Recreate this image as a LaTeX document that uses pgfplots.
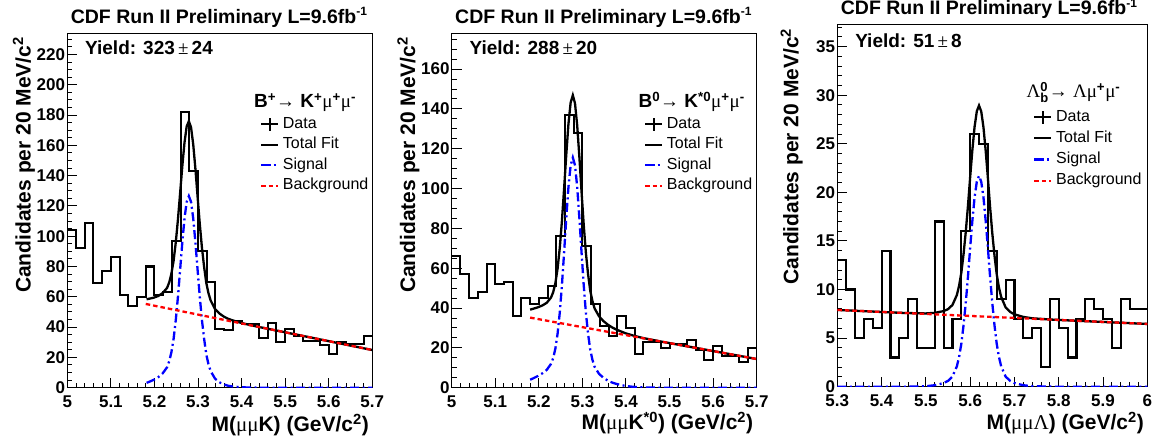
\documentclass[border=0pt]{standalone}
\usepackage{pgfplots}
\pgfplotsset{compat=1.18}
\usepackage{fontspec}
\setmainfont{Liberation Sans}
\newfontfamily\sym{Liberation Serif}
\newcommand{\g}[1]{{\sym\mdseries #1}}
\newcommand{\tsup}[1]{\raisebox{7.8pt}{\fontsize{12}{12}\selectfont #1}}

\pgfplotsset{
 cdfaxis/.style={
  scale only axis,
  axis line style={line width=1.5pt},
  tick align=inside,
  xtick pos=left, ytick pos=left,
  major tick length=10pt, minor tick length=5pt,
  tick style={black, line width=1pt},
  tick label style={font=\fontsize{17}{17}\selectfont\bfseries},
  /pgf/number format/assume math mode=true,
  scaled ticks=false,
  xticklabel style={anchor=base, yshift=-20pt},
  yticklabel style={anchor=east, inner sep=0pt, xshift=-2pt},
  label style={font=\fontsize{21}{21}\selectfont\bfseries},
  xlabel style={at={(rel axis cs:1,0)}, anchor=base east, yshift=-44pt},
  ylabel style={anchor=base east},
  title style={at={(rel axis cs:0,1)}, anchor=base west, yshift=4pt, font=\fontsize{19.5}{19.5}\selectfont\bfseries},
  title={CDF Run II Preliminary L=9.6fb\tsup{-1}},
  ylabel={Candidates per 20 MeV/c\textsuperscript{2}},
  legend cell align=left,
  legend style={anchor=north west, draw=none, fill=none, inner sep=0pt, outer sep=0pt,
    font=\fontsize{16}{16}\selectfont,
    nodes={inner sep=0pt, text height=12pt, text depth=3.5pt},
    row sep=5pt, /tikz/every odd column/.append style={column sep=3.5pt}},
 },
 hist/.style={const plot, black, line width=2.1pt, mark=none},
 tot/.style={black, line width=2.3pt, mark=none},
 sig/.style={blue, line width=2.3pt, mark=none, dash pattern=on 9pt off 3.5pt on 2pt off 3.5pt},
 bkg/.style={red, line width=2.3pt, mark=none, dash pattern=on 4.5pt off 3pt},
 datalegend/.style={legend image code/.code={
   \draw[black, line width=2pt] (0pt,0pt)--(17pt,0pt);
   \draw[black, line width=2pt] (8.5pt,-6.5pt)--(8.5pt,6.5pt);}},
}

\begin{document}
\begin{tikzpicture}
\path[use as bounding box] (0,0) rectangle (1159pt,441pt);

% ---------------- Panel 1 ----------------
\begin{axis}[cdfaxis, at={(67.3pt,53.3pt)}, anchor=south west,
  width=305pt, height=354.4pt,
  xmin=5, xmax=5.7, ymin=0, ymax=234,
  xtick={5,5.1,5.2,5.3,5.4,5.5,5.6,5.7},
  ytick={0,20,...,220},
  minor xtick={5.00,5.02,5.04,5.06,5.08,5.10,5.12,5.14,5.16,5.18,5.20,5.22,5.24,5.26,5.28,5.30,5.32,5.34,5.36,5.38,5.40,5.42,5.44,5.46,5.48,5.50,5.52,5.54,5.56,5.58,5.60,5.62,5.64,5.66,5.68,5.70},
  minor ytick={0,5,...,230},
  xlabel={M(\g{μμ}K) (GeV/c\textsuperscript{2})},
  ylabel style={at={(rel axis cs:-0.120,1)}},
  legend style={at={(rel axis cs:0.632,0.7655)}},
]
\addlegendimage{datalegend}\addlegendentry{Data}
\addlegendimage{tot}\addlegendentry{Total Fit}
\addlegendimage{sig}\addlegendentry{Signal}
\addlegendimage{bkg}\addlegendentry{Background}

\addplot[hist] coordinates {
(5.00,104) (5.02,92) (5.04,109) (5.06,69) (5.08,77) (5.10,86) (5.12,61) (5.14,54) (5.16,60) (5.18,80)
(5.20,61) (5.22,63) (5.24,97) (5.26,182) (5.28,143) (5.30,90) (5.32,70) (5.34,39) (5.36,38) (5.38,44)
(5.40,42) (5.42,42) (5.44,33) (5.46,43) (5.48,30) (5.50,39) (5.52,34) (5.54,31) (5.56,31) (5.58,28)
(5.60,22) (5.62,30) (5.64,29) (5.66,29) (5.68,34) (5.70,34)};
\addplot[tot] coordinates {
(5.182,58.4) (5.189,58.8) (5.199,59.5) (5.209,60.6) (5.219,62.5) (5.229,65.9) (5.234,69.6) (5.239,75.4)
(5.244,83.9) (5.249,96.0) (5.254,111.2) (5.259,128.7) (5.264,146.4) (5.269,161.9) (5.274,172.5) (5.279,176.0)
(5.284,171.9) (5.289,160.7) (5.294,144.6) (5.299,126.3) (5.304,108.3) (5.309,92.5) (5.314,79.8) (5.319,69.2)
(5.324,62.4) (5.329,57.6) (5.339,52.0) (5.349,49.0) (5.359,47.0) (5.369,45.5) (5.379,44.5) (5.399,42.8)
(5.419,41.4) (5.439,40.15) (5.70,24.88)};
\addplot[sig] coordinates {
(5.182,3.2) (5.189,4.0) (5.199,5.3) (5.209,7.0) (5.219,9.5) (5.229,13.5) (5.234,17.5) (5.239,23.5)
(5.244,32.3) (5.249,44.7) (5.254,60.2) (5.259,78.0) (5.264,96.0) (5.269,111.8) (5.274,122.7) (5.279,126.5)
(5.284,122.7) (5.289,111.8) (5.294,96.0) (5.299,78.0) (5.304,60.2) (5.309,44.7) (5.314,32.3) (5.319,22)
(5.324,15.5) (5.329,11) (5.339,6.0) (5.349,3.6) (5.359,2.2) (5.369,1.3) (5.379,0.8) (5.399,0.3)
(5.419,0.1) (5.439,0) (5.70,0)};
\addplot[bkg] coordinates {(5.18,55.3) (5.70,24.88)};

\node[anchor=base west, font=\fontsize{19}{19}\selectfont\bfseries] at (rel axis cs:0.047,0.9407) {Yield: 323\,\g{±}\,24};
\node[anchor=base west, font=\fontsize{19}{19}\selectfont\bfseries] at (rel axis cs:0.601,0.7912) {B\textsuperscript{+}\g{→} K\textsuperscript{+}\g{μ}\textsuperscript{+}\g{μ}\textsuperscript{-}};
\end{axis}

% ---------------- Panel 2 ----------------
\begin{axis}[cdfaxis, at={(451.7pt,53.3pt)}, anchor=south west,
  width=305pt, height=354.4pt,
  xmin=5, xmax=5.7, ymin=0, ymax=178,
  xtick={5,5.1,5.2,5.3,5.4,5.5,5.6,5.7},
  ytick={0,20,...,160},
  minor xtick={5.00,5.02,5.04,5.06,5.08,5.10,5.12,5.14,5.16,5.18,5.20,5.22,5.24,5.26,5.28,5.30,5.32,5.34,5.36,5.38,5.40,5.42,5.44,5.46,5.48,5.50,5.52,5.54,5.56,5.58,5.60,5.62,5.64,5.66,5.68,5.70},
  minor ytick={0,5,...,175},
  xlabel={M(\g{μμ}K\textsuperscript{*0}) (GeV/c\textsuperscript{2})},
  xlabel style={yshift=2pt},
  ylabel style={at={(rel axis cs:-0.120,1)}},
  legend style={at={(rel axis cs:0.6305,0.7655)}},
]
\addlegendimage{datalegend}\addlegendentry{Data}
\addlegendimage{tot}\addlegendentry{Total Fit}
\addlegendimage{sig}\addlegendentry{Signal}
\addlegendimage{bkg}\addlegendentry{Background}

\addplot[hist] coordinates {
(5.00,66) (5.02,57) (5.04,45) (5.06,48) (5.08,62) (5.10,52) (5.12,53) (5.14,36) (5.16,45) (5.18,42)
(5.20,45) (5.22,51) (5.24,76) (5.26,137) (5.28,128) (5.30,71) (5.32,42) (5.34,31) (5.36,26) (5.38,36)
(5.40,30) (5.42,17) (5.44,23) (5.46,23) (5.48,20) (5.50,22) (5.52,22) (5.54,24) (5.56,19) (5.58,14)
(5.60,21) (5.62,16) (5.64,16) (5.66,13) (5.68,20) (5.70,20)};
\addplot[tot] coordinates {
(5.180,39.2) (5.188,39.7) (5.198,40.4) (5.208,41.3) (5.218,42.6) (5.228,45.3) (5.233,48.0) (5.238,52.6)
(5.243,59.8) (5.248,70.1) (5.253,83.8) (5.258,100.1) (5.263,117.2) (5.268,132.6) (5.273,143.2) (5.278,146.9)
(5.283,142.8) (5.288,131.8) (5.293,116.0) (5.298,98.5) (5.303,81.8) (5.308,67.7) (5.313,57.0) (5.318,48.7)
(5.323,43.5) (5.328,39.8) (5.338,35.9) (5.348,33.5) (5.358,31.7) (5.368,30.3) (5.378,29.2) (5.398,27.4)
(5.418,26.1) (5.438,25.0) (5.478,23.28) (5.70,14.4)};
\addplot[sig] coordinates {
(5.180,4.0) (5.188,4.8) (5.198,5.9) (5.208,7.2) (5.218,8.9) (5.228,12.0) (5.233,14.9) (5.238,19.7)
(5.243,27.1) (5.248,37.6) (5.253,51.5) (5.258,68.0) (5.263,85.3) (5.268,100.9) (5.273,111.7) (5.278,115.6)
(5.283,111.7) (5.288,100.9) (5.293,85.3) (5.298,68.0) (5.303,51.5) (5.308,37.6) (5.313,27.1) (5.318,19.0)
(5.323,14.0) (5.328,10.5) (5.338,7.0) (5.348,5.0) (5.358,3.6) (5.368,2.6) (5.378,1.9) (5.398,0.9)
(5.418,0.4) (5.438,0.15) (5.478,0) (5.70,0)};
\addplot[bkg] coordinates {(5.18,35.2) (5.70,14.4)};

\node[anchor=base west, font=\fontsize{19}{19}\selectfont\bfseries] at (rel axis cs:0.047,0.9407) {Yield: 288\,\g{±}\,20};
\node[anchor=base west, font=\fontsize{19}{19}\selectfont\bfseries] at (rel axis cs:0.601,0.7912) {B\textsuperscript{0}\g{→} K\textsuperscript{*0}\g{μ}\textsuperscript{+}\g{μ}\textsuperscript{-}};
\end{axis}

% ---------------- Panel 3 ----------------
\begin{axis}[cdfaxis, at={(837.3pt,54.3pt)}, anchor=south west,
  width=310pt, height=362.4pt,
  xmin=5.3, xmax=6, ymin=0, ymax=37.3,
  xtick={5.3,5.4,5.5,5.6,5.7,5.8,5.9,6},
  ytick={0,5,...,35},
  minor xtick={5.30,5.32,5.34,5.36,5.38,5.40,5.42,5.44,5.46,5.48,5.50,5.52,5.54,5.56,5.58,5.60,5.62,5.64,5.66,5.68,5.70,5.72,5.74,5.76,5.78,5.80,5.82,5.84,5.86,5.88,5.90,5.92,5.94,5.96,5.98,6.00},
  minor ytick={0,1,...,37},
  title style={yshift=-0.6pt},
  xlabel={M(\g{μμΛ}) (GeV/c\textsuperscript{2})},
  xlabel style={yshift=0.7pt},
  ylabel style={at={(rel axis cs:-0.1258,0.998)}},
  legend style={at={(rel axis cs:0.632,0.7652)}, row sep=5.7pt},
]
\addlegendimage{datalegend}\addlegendentry{Data}
\addlegendimage{tot}\addlegendentry{Total Fit}
\addlegendimage{sig}\addlegendentry{Signal}
\addlegendimage{bkg}\addlegendentry{Background}

\addplot[hist] coordinates {
(5.30,13) (5.32,10) (5.34,5) (5.36,7) (5.38,6) (5.40,14) (5.42,3) (5.44,5) (5.46,9) (5.48,4)
(5.50,4) (5.52,17) (5.54,4) (5.56,7) (5.58,16) (5.60,26) (5.62,25) (5.64,14) (5.66,9) (5.68,11)
(5.70,7) (5.72,5) (5.74,6) (5.76,2) (5.78,9) (5.80,6) (5.82,3) (5.84,7) (5.86,9) (5.88,8)
(5.90,7) (5.92,4) (5.94,9) (5.96,8) (5.98,8) (6.00,8)};
\addplot[tot] coordinates {
(5.30,7.90) (5.40,7.69) (5.45,7.59) (5.50,7.54) (5.52,7.60) (5.54,7.78) (5.55,7.98) (5.56,8.41)
(5.57,9.44) (5.575,10.39) (5.58,11.72) (5.585,13.61) (5.59,15.90) (5.595,18.59) (5.60,21.58) (5.605,24.37)
(5.61,26.76) (5.615,28.35) (5.62,28.94) (5.625,28.33) (5.63,26.72) (5.635,24.31) (5.64,21.50) (5.645,18.49)
(5.65,15.78) (5.655,13.47) (5.66,11.56) (5.665,10.21) (5.67,9.24) (5.68,8.17) (5.69,7.70) (5.70,7.45)
(5.72,7.18) (5.74,7.04) (5.79,6.89) (6.00,6.46)};
\addplot[sig] coordinates {
(5.30,0) (5.45,0) (5.50,0.05) (5.52,0.15) (5.54,0.37) (5.55,0.6) (5.56,1.05) (5.57,2.1)
(5.575,3.06) (5.58,4.4) (5.585,6.3) (5.59,8.6) (5.595,11.3) (5.60,14.3) (5.605,17.1) (5.61,19.5)
(5.615,21.1) (5.62,21.7) (5.625,21.1) (5.63,19.5) (5.635,17.1) (5.64,14.3) (5.645,11.3) (5.65,8.6)
(5.655,6.3) (5.66,4.4) (5.665,3.06) (5.67,2.1) (5.68,1.05) (5.69,0.6) (5.70,0.37) (5.72,0.15)
(5.74,0.05) (5.79,0) (6.00,0)};
\addplot[bkg] coordinates {(5.30,7.9) (6.00,6.46)};

\node[anchor=base west, font=\fontsize{19}{19}\selectfont\bfseries] at (rel axis cs:0.0465,0.9354) {Yield: 51\,\g{±}\,8};
\node[anchor=base west, font=\fontsize{19}{19}\selectfont\bfseries] at (rel axis cs:0.599,0.797) {\g{Λ}\ensuremath{^{\mbox{\fontsize{13}{13}\selectfont\bfseries 0}}_{\mbox{\fontsize{13}{13}\selectfont\bfseries b}}}\g{→} \g{Λμ}\textsuperscript{+}\g{μ}\textsuperscript{-}};
\end{axis}
\end{tikzpicture}
\end{document}
